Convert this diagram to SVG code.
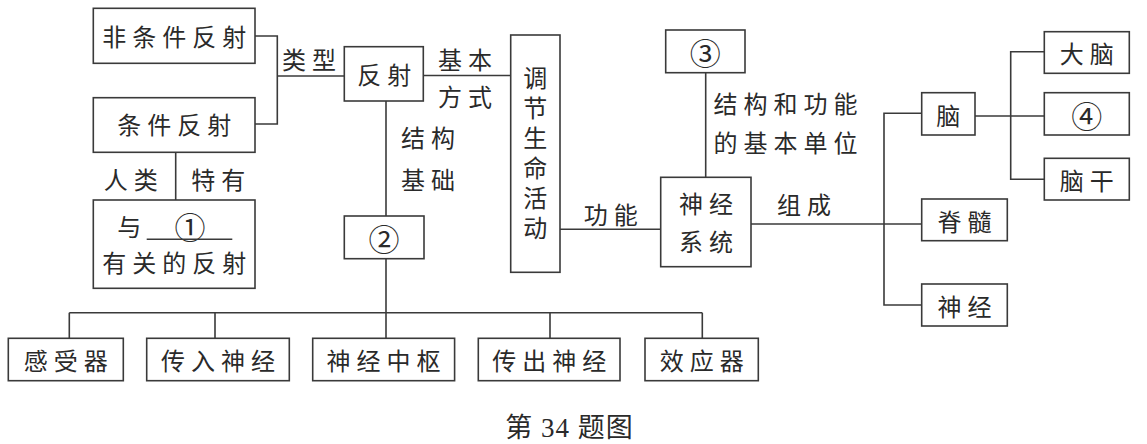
<svg xmlns="http://www.w3.org/2000/svg" width="1147" height="444" viewBox="0 0 1147 444">
<style>
.b{fill:#fff;stroke:#3a3a3a;stroke-width:1.6}
.t{font-family:"Noto Sans CJK SC","Noto Sans",sans-serif;font-size:24px;fill:#2a2a2a;text-anchor:middle;dominant-baseline:central;letter-spacing:6px}
.n{font-family:"Noto Sans CJK SC","DejaVu Sans",sans-serif;font-size:31px;fill:#2a2a2a;text-anchor:middle;dominant-baseline:central}
.c{fill:none;stroke:#3a3a3a;stroke-width:1.6}
.v{font-family:"Noto Sans CJK SC","Noto Sans",sans-serif;font-size:24px;fill:#2a2a2a;writing-mode:vertical-rl;text-orientation:upright;letter-spacing:6px}
.cap{font-family:"Liberation Serif","Noto Sans CJK SC",serif;font-size:27px;fill:#2a2a2a;text-anchor:middle;dominant-baseline:central;letter-spacing:1px}
</style>
<rect width="1147" height="444" fill="#fff"/>
<g id="connectors" class="c">
<path d="M255 36H277.3V124H255"/>
<path d="M277.3 76H344.3"/>
<path d="M423.3 75.5H510.7"/>
<path d="M386 101V216"/>
<path d="M386 258.7V338.3"/>
<path d="M69.3 312.7H702.3"/>
<path d="M69.3 312.7V338.3M215 312.7V338.3M550 312.7V338.3M702.3 312.7V338.3"/>
<path d="M175.7 152.3V200"/>
<path d="M560 229.3H660.7"/>
<path d="M705.7 72.7V177.3"/>
<path d="M751 224H921.7"/>
<path d="M921.7 113.3H884V305H921.7"/>
<path d="M975 116H1044.3"/>
<path d="M1044.3 51.7H1010.7V179.3H1044.3"/>
</g>
<g id="label-leixing"><text class="t" x="312" y="58.3">类型</text></g>
<g id="label-jibenfangshi"><text class="t" x="468" y="58.3">基本</text><text class="t" x="468" y="95">方式</text></g>
<g id="label-jiegoujichu"><text class="t" x="431" y="136.7">结构</text><text class="t" x="431" y="178.3">基础</text></g>
<g id="label-renlei"><text class="t" x="133.8" y="178.3">人类</text><text class="t" x="221.3" y="178.3">特有</text></g>
<g id="label-gongneng"><text class="t" x="613.8" y="213.3">功能</text></g>
<g id="label-zucheng"><text class="t" x="807" y="203.3">组成</text></g>
<g id="label-jiegouhegongneng"><text class="t" x="788.5" y="102.5">结构和功能</text><text class="t" x="788.5" y="141.7">的基本单位</text></g>
<g id="node-feitiaojian"><rect class="b" x="93.3" y="8.3" width="161.7" height="55"/><text class="t" x="177.2" y="35.8">非条件反射</text></g>
<g id="node-tiaojian"><rect class="b" x="93.3" y="97.7" width="161.7" height="54.6"/><text class="t" x="177.2" y="123.3">条件反射</text></g>
<g id="node-1"><rect class="b" x="93.3" y="200" width="161.7" height="88.3"/><text class="t" x="132.3" y="225">与</text><text class="n" x="190" y="225">①</text><path class="c" d="M146.7 239.3H232.3"/><text class="t" x="177.2" y="261.7">有关的反射</text></g>
<g id="node-fanshe"><rect class="b" x="344.3" y="46.7" width="79" height="54.3"/><text class="t" x="387.2" y="73.3">反射</text></g>
<g id="node-2"><rect class="b" x="344.3" y="216" width="79.7" height="42.7"/><text class="n" x="384" y="237.3">②</text></g>
<g id="node-tiaojie"><rect class="b" x="510.7" y="35" width="49.3" height="237.3"/>
<text class="v" x="535.3" y="66.3">调节生命活动</text></g>
<g id="node-3"><rect class="b" x="665.7" y="30" width="79.3" height="42.7"/><text class="n" x="705.3" y="51.3">③</text></g>
<g id="node-shenjingxitong"><rect class="b" x="660.7" y="177.3" width="90.3" height="89.4"/><text class="t" x="709" y="202.7">神经</text><text class="t" x="709" y="240">系统</text></g>
<g id="node-nao"><rect class="b" x="921.7" y="92.7" width="53.3" height="42.3"/><text class="t" x="948.3" y="114" style="letter-spacing:0">脑</text></g>
<g id="node-jisui"><rect class="b" x="921.7" y="199" width="85.6" height="41.7"/><text class="t" x="967.5" y="220">脊髓</text></g>
<g id="node-shenjing"><rect class="b" x="921.7" y="284" width="85.6" height="42"/><text class="t" x="967.5" y="305">神经</text></g>
<g id="node-danao"><rect class="b" x="1044.3" y="31.7" width="85" height="41.6"/><text class="t" x="1089.8" y="52.5">大脑</text></g>
<g id="node-4"><rect class="b" x="1044.3" y="92.7" width="85" height="42.3"/><text class="n" x="1086.8" y="114">④</text></g>
<g id="node-naogan"><rect class="b" x="1044.3" y="158.3" width="85" height="41.7"/><text class="t" x="1089.8" y="179">脑干</text></g>
<g id="node-ganshouqi"><rect class="b" x="8.3" y="338.3" width="115" height="42.4"/><text class="t" x="68.8" y="359.5">感受器</text></g>
<g id="node-chuanru"><rect class="b" x="146.7" y="338.3" width="142.6" height="42.4"/><text class="t" x="221" y="359.5">传入神经</text></g>
<g id="node-zhongshu"><rect class="b" x="312.7" y="338.3" width="141.9" height="42.4"/><text class="t" x="386.6" y="359.5">神经中枢</text></g>
<g id="node-chuanchu"><rect class="b" x="478.3" y="338.3" width="141.7" height="42.4"/><text class="t" x="552.2" y="359.5">传出神经</text></g>
<g id="node-xiaoyingqi"><rect class="b" x="645" y="338.3" width="113.3" height="42.4"/><text class="t" x="704.7" y="359.5">效应器</text></g>
<g id="caption"><text class="cap" x="569.5" y="428">第 34 题图</text></g>
</svg>
